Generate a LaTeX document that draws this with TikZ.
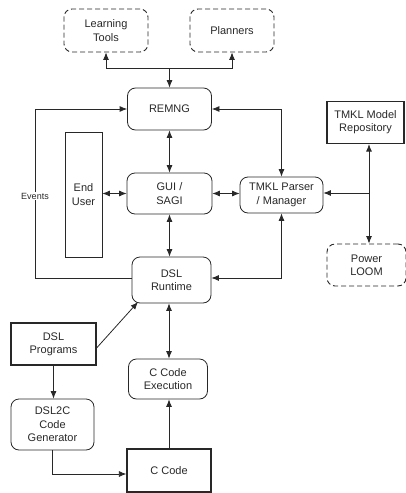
\documentclass[tikz,border=0pt]{standalone}
\usepackage{fontspec}
\setmainfont{Liberation Sans}
\usetikzlibrary{arrows.meta}
\definecolor{ink}{RGB}{40,40,40}
\tikzset{
  base/.style={draw=ink, text=ink, align=center, inner sep=1pt, line width=0.8pt,
    font=\fontsize{11}{13.3}\selectfont},
  rbox/.style={base, rounded corners=8pt},
  dbox/.style={base, rounded corners=8pt, line width=0.9pt, dash pattern=on 5pt off 3pt},
  sbox/.style={base, line width=1.2pt},
  tbox/.style={base},
  tip/.style={-{Latex[length=7.5pt,width=6pt]}},
  dtip/.style={{Latex[length=7.5pt,width=6pt]}-{Latex[length=7.5pt,width=6pt]}},
  conn/.style={draw=ink, line width=0.8pt}
}
\begin{document}
\begin{tikzpicture}[x=1pt,y=-1pt]
\useasboundingbox (0,0) rectangle (406,493);
\node[dbox, minimum width=84pt, minimum height=43pt] (LT) at (106,30.5) {Learning\\Tools};
\node[dbox, minimum width=84pt, minimum height=43pt] (PL) at (232,30.5) {Planners};
\node[rbox, minimum width=84pt, minimum height=42pt] (RE) at (169.5,109) {REMNG};
\node[sbox, minimum width=77pt, minimum height=42pt] (REP) at (365.5,122.5) {TMKL Model\\Repository};
\node[tbox, minimum width=37pt, minimum height=125pt] (EU) at (83.5,194.5) {End\\User};
\node[rbox, minimum width=85pt, minimum height=41pt] (GUI) at (169.5,193.5) {GUI /\\SAGI};
\node[rbox, minimum width=83pt, minimum height=36pt] (TP) at (281.5,195) {TMKL Parser\\/ Manager};
\node[dbox, minimum width=79pt, minimum height=42pt] (LOOM) at (366.5,265) {Power\\LOOM};
\node[rbox, minimum width=79pt, minimum height=46pt] (DSL) at (171.5,280) {DSL\\Runtime};
\node[sbox, minimum width=85pt, minimum height=42pt] (DP) at (53.5,344) {DSL\\Programs};
\node[rbox, minimum width=79pt, minimum height=40pt] (CCE) at (168,379) {C Code\\Execution};
\node[rbox, minimum width=83pt, minimum height=51pt] (D2C) at (52.5,424.5) {DSL2C\\Code\\Generator};
\node[sbox, minimum width=84pt, minimum height=43pt] (CC) at (169,470.5) {C Code};

% top tree
\coordinate (J) at (169.5,68);
\draw[conn, tip] (J) -- (RE.north);
\draw[conn, tip] (J) -| (LT.south);
\draw[conn, tip] (J) -| (PL.south);
% REMNG <-> GUI
\draw[conn, dtip] (RE.south) -- (GUI.north);
% Events loop
\coordinate (EL) at (35,278);
\draw[conn, tip] (DSL.west |- EL) -- (EL) |- (RE.west);
\node[fill=white, inner sep=1pt, text=ink, font=\fontsize{9}{10}\selectfont] (EV) at (35,196) {Events};
% REMNG <-> TMKL Parser
\draw[conn, dtip] (RE.east) -| (TP.north);
% End user <-> GUI <-> TMKL
\draw[conn, dtip] (EU.east |- GUI.east) -- (GUI.east -| GUI.west);
\draw[conn, dtip] (GUI.east) -- (TP.west |- GUI.east);
% repository / loom
\coordinate (JR) at (369,193);
\draw[conn, dtip] ([xshift=3.5pt]REP.south) -- ([xshift=2.5pt]LOOM.north);
\draw[conn, tip] (JR) -- (TP.east |- JR);
% TMKL <-> DSL runtime
\coordinate (TD) at (281.5,278);
\draw[conn, tip] (TD) -- (TP.south);
\draw[conn, tip] (TD) -- (DSL.east |- TD);
% GUI <-> DSL
\draw[conn, dtip] (GUI.south) -- (GUI.south |- DSL.north);
% DSL programs -> DSL runtime
\coordinate (DT) at (138,302);
\draw[conn, tip] (DP.east |- 0,348) -- (DT);
% DSL <-> CCE
\draw[conn, dtip] (CCE.north -| 169,0) -- (DSL.south -| 169,0);
% DSL programs -> DSL2C
\draw[conn, tip] (DP.south) -- (D2C.north -| DP.south);
% DSL2C -> C Code
\coordinate (CL) at (52.5,474);
\draw[conn, tip] (D2C.south) -- (CL) -- (CC.west |- CL);
% C Code -> CCE
\draw[conn, tip] (CC.north) -- (CCE.south -| CC.north);
\end{tikzpicture}
\end{document}
